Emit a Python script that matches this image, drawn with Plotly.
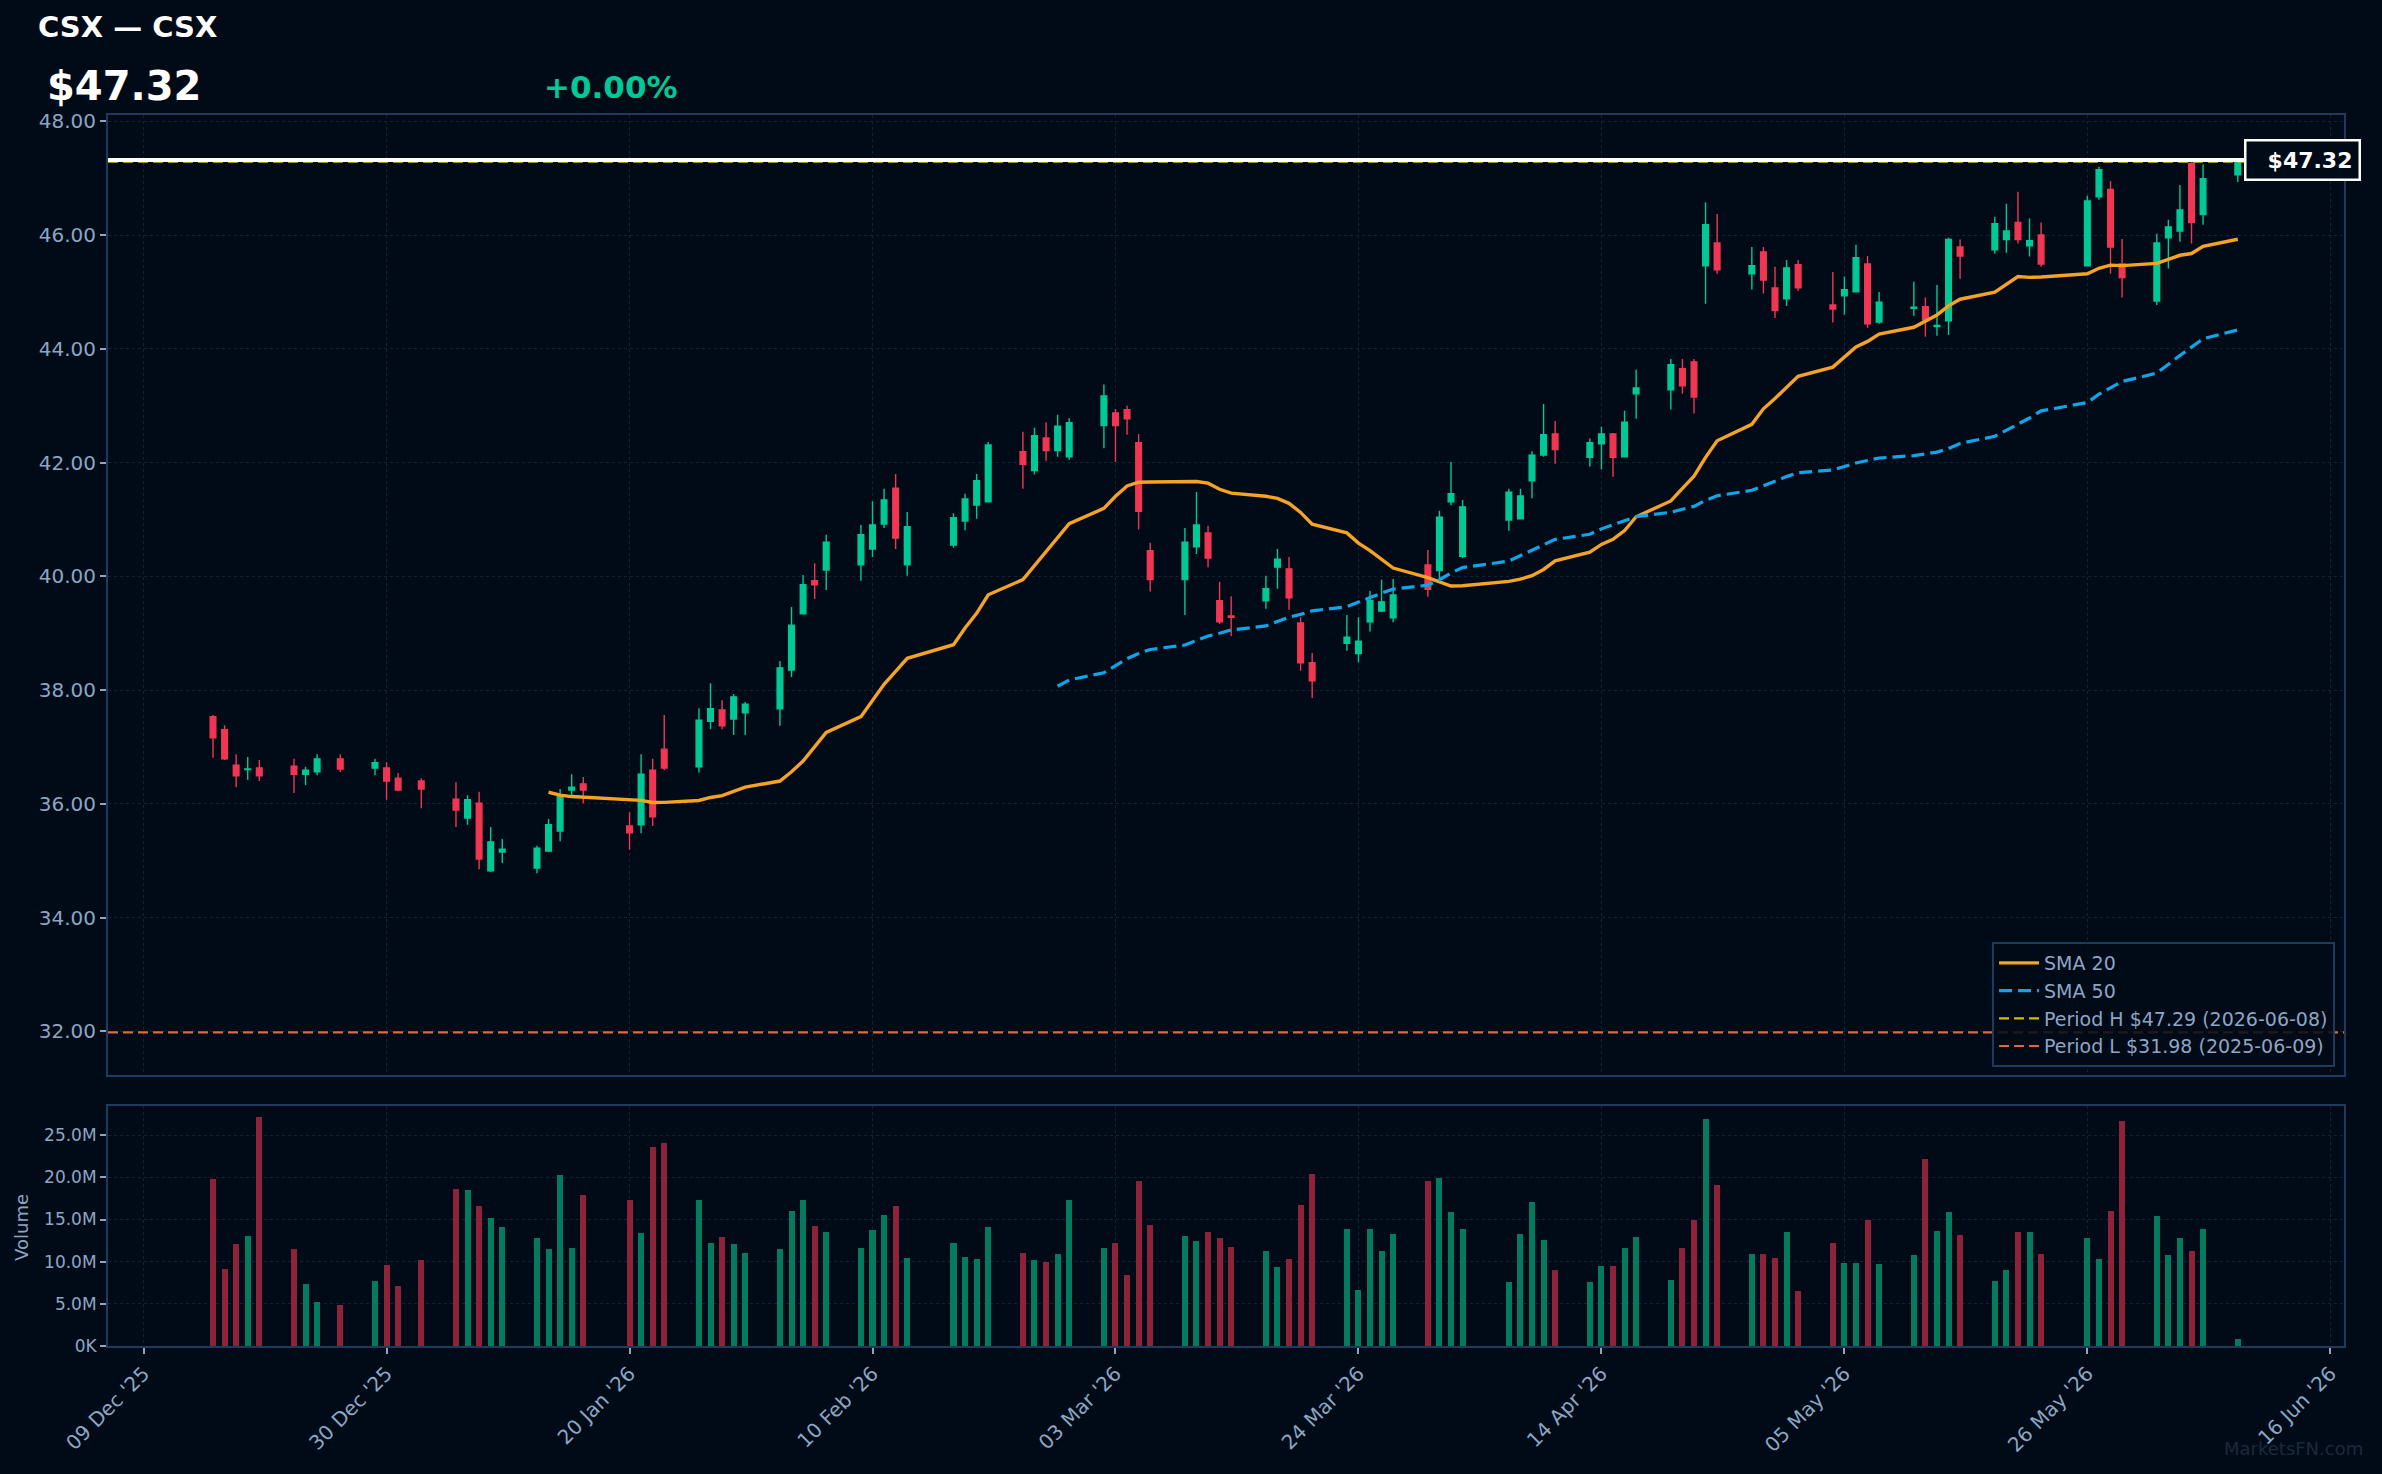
import plotly.graph_objects as go
import pandas as pd

# ---------------- data ----------------
dates = [
    "2025-12-15", "2025-12-16", "2025-12-17", "2025-12-18", "2025-12-19",
    "2025-12-22", "2025-12-23", "2025-12-24", "2025-12-26",
    "2025-12-29", "2025-12-30", "2025-12-31", "2026-01-02",
    "2026-01-05", "2026-01-06", "2026-01-07", "2026-01-08", "2026-01-09",
    "2026-01-12", "2026-01-13", "2026-01-14", "2026-01-15", "2026-01-16",
    "2026-01-20", "2026-01-21", "2026-01-22", "2026-01-23",
    "2026-01-26", "2026-01-27", "2026-01-28", "2026-01-29", "2026-01-30",
    "2026-02-02", "2026-02-03", "2026-02-04", "2026-02-05", "2026-02-06",
    "2026-02-09", "2026-02-10", "2026-02-11", "2026-02-12", "2026-02-13",
    "2026-02-17", "2026-02-18", "2026-02-19", "2026-02-20",
    "2026-02-23", "2026-02-24", "2026-02-25", "2026-02-26", "2026-02-27",
    "2026-03-02", "2026-03-03", "2026-03-04", "2026-03-05", "2026-03-06",
    "2026-03-09", "2026-03-10", "2026-03-11", "2026-03-12", "2026-03-13",
    "2026-03-16", "2026-03-17", "2026-03-18", "2026-03-19", "2026-03-20",
    "2026-03-23", "2026-03-24", "2026-03-25", "2026-03-26", "2026-03-27",
    "2026-03-30", "2026-03-31", "2026-04-01", "2026-04-02",
    "2026-04-06", "2026-04-07", "2026-04-08", "2026-04-09", "2026-04-10",
    "2026-04-13", "2026-04-14", "2026-04-15", "2026-04-16", "2026-04-17",
    "2026-04-20", "2026-04-21", "2026-04-22", "2026-04-23", "2026-04-24",
    "2026-04-27", "2026-04-28", "2026-04-29", "2026-04-30", "2026-05-01",
    "2026-05-04", "2026-05-05", "2026-05-06", "2026-05-07", "2026-05-08",
    "2026-05-11", "2026-05-12", "2026-05-13", "2026-05-14", "2026-05-15",
    "2026-05-18", "2026-05-19", "2026-05-20", "2026-05-21", "2026-05-22",
    "2026-05-26", "2026-05-27", "2026-05-28", "2026-05-29",
    "2026-06-01", "2026-06-02", "2026-06-03", "2026-06-04", "2026-06-05",
    "2026-06-08",
]

opens = [
    37.53, 37.30, 36.68, 36.60, 36.63,
    36.66, 36.52, 36.56, 36.79,
    36.63, 36.63, 36.45, 36.40,
    36.08, 35.75, 36.01, 34.82, 35.15,
    34.87, 35.17, 35.52, 36.24, 36.35,
    35.61, 35.63, 36.59, 36.96,
    36.65, 37.45, 37.65, 37.49, 37.60,
    37.67, 38.35, 39.34, 39.92, 40.11,
    40.20, 40.48, 40.92, 41.55, 40.20,
    40.55, 40.97, 41.25, 41.31,
    42.19, 41.86, 42.43, 42.21, 42.10,
    42.65, 42.87, 42.93, 42.35, 40.45,
    39.94, 40.52, 40.76, 39.57, 39.30,
    39.57, 40.16, 40.13, 39.18, 38.48,
    38.82, 38.64, 39.20, 39.39, 39.27,
    40.20, 40.10, 41.31, 40.35,
    40.99, 41.01, 41.68, 42.13, 42.50,
    42.09, 42.33, 42.50, 42.10, 43.21,
    43.28, 43.65, 43.77, 45.46, 45.86,
    45.32, 45.70, 45.07, 44.88, 45.48,
    44.77, 44.93, 45.00, 45.49, 44.47,
    44.71, 44.74, 44.39, 44.49, 45.79,
    45.74, 45.92, 46.22, 45.81, 46.00,
    45.46, 46.67, 46.80, 45.49,
    44.84, 45.95, 46.07, 47.26, 46.36,
    47.06,
]

highs = [
    37.56, 37.38, 36.87, 36.82, 36.77,
    36.79, 36.65, 36.87, 36.87,
    36.79, 36.73, 36.54, 36.45,
    36.38, 36.15, 36.21, 35.59, 35.38,
    35.26, 35.73, 36.26, 36.52, 36.47,
    35.85, 36.87, 36.79, 37.56,
    37.68, 38.12, 37.82, 37.93, 37.79,
    38.51, 39.46, 40.02, 40.23, 40.73,
    40.90, 41.32, 41.54, 41.80, 41.13,
    41.11, 41.45, 41.80, 42.36,
    42.54, 42.61, 42.71, 42.84, 42.78,
    43.37, 42.94, 43.00, 42.50, 40.59,
    40.85, 41.48, 40.89, 39.90, 39.65,
    40.01, 40.48, 40.34, 39.28, 38.65,
    39.32, 39.28, 39.74, 39.94, 39.95,
    40.46, 41.15, 42.01, 41.34,
    41.54, 41.54, 42.20, 43.03, 42.73,
    42.42, 42.63, 42.52, 42.91, 43.63,
    43.82, 43.82, 43.82, 46.57, 46.37,
    45.79, 45.79, 45.44, 45.56, 45.56,
    45.35, 45.27, 45.83, 45.63, 45.00,
    45.18, 44.90, 45.12, 45.95, 45.92,
    46.32, 46.55, 46.76, 46.29, 46.22,
    46.69, 47.20, 46.95, 45.93,
    46.02, 46.27, 46.88, 47.28, 47.24,
    47.29,
]

lows = [
    36.81, 36.77, 36.29, 36.42, 36.40,
    36.19, 36.33, 36.50, 36.56,
    36.50, 36.07, 36.22, 35.92,
    35.59, 35.63, 34.85, 34.80, 34.96,
    34.78, 35.15, 35.34, 36.15, 36.01,
    35.19, 35.48, 35.61, 36.59,
    36.55, 37.31, 37.31, 37.21, 37.21,
    37.37, 38.23, 39.34, 39.60, 39.76,
    39.92, 40.34, 40.85, 40.48, 40.01,
    40.50, 40.81, 41.01, 41.31,
    41.54, 41.79, 42.03, 42.10, 42.05,
    42.25, 42.01, 42.49, 40.82, 39.73,
    39.32, 40.39, 40.16, 39.16, 38.95,
    39.43, 39.78, 39.41, 38.34, 37.86,
    38.69, 38.49, 39.03, 39.37, 39.19,
    39.64, 39.94, 41.25, 40.32,
    40.80, 41.01, 41.37, 42.10, 41.98,
    41.93, 41.88, 41.75, 42.10, 42.77,
    42.93, 43.21, 42.86, 44.79, 45.32,
    45.04, 44.97, 44.54, 44.75, 45.02,
    44.46, 44.60, 45.00, 44.37, 44.44,
    44.58, 44.21, 44.23, 44.24, 45.23,
    45.67, 45.69, 45.85, 45.62, 45.44,
    45.46, 46.62, 45.32, 44.90,
    44.77, 45.41, 45.88, 45.85, 46.18,
    46.93,
]

closes = [
    37.16, 36.79, 36.49, 36.61, 36.49,
    36.52, 36.59, 36.79, 36.61,
    36.72, 36.40, 36.24, 36.26,
    35.89, 36.07, 35.03, 35.33, 35.20,
    35.22, 35.63, 36.15, 36.29, 36.24,
    35.49, 36.52, 35.77, 36.63,
    37.47, 37.67, 37.37, 37.88, 37.75,
    38.39, 39.14, 39.85, 39.85, 40.60,
    40.73, 40.90, 41.34, 40.67, 40.87,
    41.03, 41.36, 41.68, 42.31,
    41.97, 42.47, 42.21, 42.64, 42.70,
    43.17, 42.65, 42.77, 41.14, 39.94,
    40.60, 40.90, 40.32, 39.20, 39.28,
    39.78, 40.30, 39.62, 38.48, 38.16,
    38.93, 38.86, 39.57, 39.55, 39.67,
    39.77, 41.04, 41.45, 41.22,
    41.48, 41.41, 42.13, 42.49, 42.23,
    42.35, 42.50, 42.09, 42.71, 43.31,
    43.72, 43.35, 43.15, 46.18, 45.39,
    45.46, 45.21, 44.67, 45.42, 45.07,
    44.70, 45.04, 45.60, 44.44, 44.82,
    44.73, 44.51, 44.41, 45.92, 45.63,
    46.20, 46.07, 45.92, 45.90, 45.49,
    46.60, 47.15, 45.79, 45.25,
    45.86, 46.14, 46.44, 46.22, 46.99,
    47.29,
]

volumes_m = [
    19.9, 9.2, 12.1, 13.1, 27.2,
    11.5, 7.4, 5.3, 4.9,
    7.7, 9.6, 7.1, 10.2,
    18.6, 18.5, 16.6, 15.2, 14.2,
    12.8, 11.5, 20.3, 11.6, 18.0,
    17.3, 13.4, 23.6, 24.1,
    17.3, 12.3, 13.0, 12.1, 11.1,
    11.5, 16.0, 17.4, 14.3, 13.5,
    11.6, 13.8, 15.6, 16.6, 10.5,
    12.2, 10.6, 10.3, 14.1,
    11.1, 10.2, 10.0, 10.9, 17.4,
    11.7, 12.3, 8.5, 19.6, 14.4,
    13.1, 12.5, 13.5, 12.8, 11.8,
    11.3, 9.4, 10.4, 16.8, 20.4,
    13.9, 6.7, 13.9, 11.3, 13.3,
    19.6, 20.0, 15.9, 13.9,
    7.6, 13.3, 17.1, 12.6, 9.0,
    7.6, 9.5, 9.5, 11.7, 13.0,
    7.9, 11.6, 15.0, 26.9, 19.1,
    11.0, 11.0, 10.5, 13.5, 6.5,
    12.3, 9.9, 9.9, 15.0, 9.8,
    10.8, 22.2, 13.7, 15.9, 13.2,
    7.8, 9.0, 13.5, 13.5, 11.0,
    12.8, 10.3, 16.0, 26.7,
    15.5, 10.8, 12.8, 11.3, 13.9,
    0.9,
]

ticker = "CSX"
company = "CSX"
last_price = 47.32
change_pct = 0.00
period_high = 47.29
period_high_date = "2026-06-08"
period_low = 31.98
period_low_date = "2025-06-09"

x_tick_dates = ["2025-12-09", "2025-12-30", "2026-01-20", "2026-02-10", "2026-03-03",
                "2026-03-24", "2026-04-14", "2026-05-05", "2026-05-26", "2026-06-16"]
x_tick_text = ["09 Dec '25", "30 Dec '25", "20 Jan '26", "10 Feb '26", "03 Mar '26",
               "24 Mar '26", "14 Apr '26", "05 May '26", "26 May '26", "16 Jun '26"]
price_ticks = [32, 34, 36, 38, 40, 42, 44, 46, 48]
vol_ticks_m = [0, 5, 10, 15, 20, 25]
vol_tick_text = ["0K", "5.0M", "10.0M", "15.0M", "20.0M", "25.0M"]

x_range = ["2025-12-05 22:12", "2026-06-17 04:19"]
price_range = [31.23, 48.11]
vol_range_m = [0, 28.5]

# ---------------- styling ----------------
BG = "#010b17"
UP = "#00c896"
DOWN = "#f03652"
VOL_UP = "#047a5f"
VOL_DOWN = "#8d2239"
SMA20_C = "#f5a325"
SMA50_C = "#0ea5e9"
PH_C = "#d4bd00"
PL_C = "#e4643c"
FRAME = "#1e3a5c"
GRID = "#142333"
TXT = "#8ca6c4"
FONT = "DejaVu Sans"

s_close = pd.Series(closes)
sma20 = s_close.rolling(20).mean()
sma50 = s_close.rolling(50).mean()

vol = [v * 1e6 for v in volumes_m]
vol_colors = [VOL_UP if c >= o else VOL_DOWN for o, c in zip(opens, closes)]

fig = go.Figure()

fig.add_trace(go.Candlestick(
    x=dates, open=opens, high=highs, low=lows, close=closes,
    increasing=dict(line=dict(color=UP, width=1.4), fillcolor=UP),
    decreasing=dict(line=dict(color=DOWN, width=1.4), fillcolor=DOWN),
    whiskerwidth=0, showlegend=False, name=ticker,
    xaxis="x", yaxis="y",
))

fig.add_trace(go.Scatter(
    x=dates, y=sma20, mode="lines", name="SMA 20",
    line=dict(color=SMA20_C, width=3.4), xaxis="x", yaxis="y",
))
fig.add_trace(go.Scatter(
    x=dates, y=sma50, mode="lines", name="SMA 50",
    line=dict(color=SMA50_C, width=3.2, dash="13px,6px"), xaxis="x", yaxis="y",
))
fig.add_trace(go.Scatter(
    x=x_range, y=[period_high, period_high], mode="lines",
    name=f"Period H ${period_high:.2f} ({period_high_date})",
    line=dict(color=PH_C, width=2.2, dash="10px,5px"), xaxis="x", yaxis="y",
))
fig.add_trace(go.Scatter(
    x=x_range, y=[period_low, period_low], mode="lines",
    name=f"Period L ${period_low:.2f} ({period_low_date})",
    line=dict(color=PL_C, width=2.2, dash="10px,5px"), xaxis="x", yaxis="y",
))

fig.add_trace(go.Bar(
    x=dates, y=vol, marker=dict(color=vol_colors, line=dict(width=0)),
    width=0.52 * 86400000, showlegend=False, name="Volume",
    xaxis="x2", yaxis="y2",
))

# last price line
fig.add_shape(type="line", xref="x domain", x0=0, x1=1, yref="y",
              y0=last_price, y1=last_price,
              line=dict(color="#ffffff", width=4), layer="above")

axis_common = dict(
    showline=True, mirror=True, linecolor=FRAME, linewidth=2,
    gridcolor=GRID, griddash="dot", gridwidth=1, zeroline=False,
)

fig.update_layout(
    width=2382, height=1474,
    paper_bgcolor=BG, plot_bgcolor=BG,
    margin=dict(l=108, r=38, t=115, b=128),
    font=dict(family=FONT, color=TXT),
    boxgap=0.3, boxgroupgap=0.3,
    bargap=0,
    xaxis=dict(
        type="date", range=x_range, domain=[0, 1], anchor="y",
        tickvals=x_tick_dates, ticktext=[""] * len(x_tick_dates),
        ticks="", showticklabels=False,
        rangeslider=dict(visible=False),
        **axis_common,
    ),
    yaxis=dict(
        domain=[0.2201, 1], range=price_range, anchor="x",
        tickvals=price_ticks, tickformat=".2f",
        ticks="outside", ticklen=6, tickwidth=1.5, tickcolor=TXT,
        tickfont=dict(family=FONT, size=20, color=TXT),
        **axis_common,
    ),
    xaxis2=dict(
        type="date", range=x_range, domain=[0, 1], anchor="y2", matches="x",
        tickvals=x_tick_dates, ticktext=x_tick_text, tickangle=-45,
        ticks="outside", ticklen=6, tickwidth=1.5, tickcolor=TXT,
        tickfont=dict(family=FONT, size=20, color=TXT),
        **axis_common,
    ),
    yaxis2=dict(
        domain=[0, 0.1952], range=[v * 1e6 for v in vol_range_m], anchor="x2",
        tickvals=[v * 1e6 for v in vol_ticks_m], ticktext=vol_tick_text,
        ticks="outside", ticklen=6, tickwidth=1.5, tickcolor=TXT,
        tickfont=dict(family=FONT, size=17, color=TXT),
        **axis_common,
    ),
    legend=dict(
        x=0.996, y=0.2266, xanchor="right", yanchor="bottom",
        bgcolor="rgba(1,11,23,0.85)", bordercolor=FRAME, borderwidth=2,
        font=dict(family=FONT, size=19, color=TXT),
        itemwidth=40,
    ),
    showlegend=True,
)

sign = "+" if change_pct >= 0 else "-"
annotations = [
    dict(text=f"{ticker} — {company}", xref="paper", yref="paper",
         x=-0.0322, y=1.0715, xanchor="left", yanchor="middle", showarrow=False,
         font=dict(family=FONT, size=29, color="#ffffff", weight="bold")),
    dict(text=f"${last_price:.2f}", xref="paper", yref="paper",
         x=-0.0282, y=1.0235, xanchor="left", yanchor="middle", showarrow=False,
         font=dict(family=FONT, size=40, color="#ffffff", weight="bold")),
    dict(text=f"{sign}{abs(change_pct):.2f}%", xref="paper", yref="paper",
         x=0.194, y=1.0225, xanchor="left", yanchor="middle", showarrow=False,
         font=dict(family=FONT, size=31, color="#00c896", weight="bold")),
    dict(text="Volume", xref="paper", yref="paper", textangle=-90,
         x=-0.0385, y=0.0967, xanchor="center", yanchor="middle", showarrow=False,
         font=dict(family=FONT, size=18, color=TXT)),
    dict(text=f"${last_price:.2f}", xref="paper", yref="y",
         x=1.0076, y=last_price, xanchor="right", yanchor="middle", showarrow=False,
         bgcolor=BG, bordercolor="#ffffff", borderwidth=2.5, borderpad=6,
         width=100, align="right",
         font=dict(family=FONT, size=22, color="#ffffff", weight="bold")),
    dict(text="MarketsFN.com", xref="paper", yref="paper",
         x=1.0094, y=-0.083, xanchor="right", yanchor="middle", showarrow=False,
         font=dict(family=FONT, size=18, color="#1b2a3b")),
]
fig.update_layout(annotations=annotations)

fig.write_html("out.html")
